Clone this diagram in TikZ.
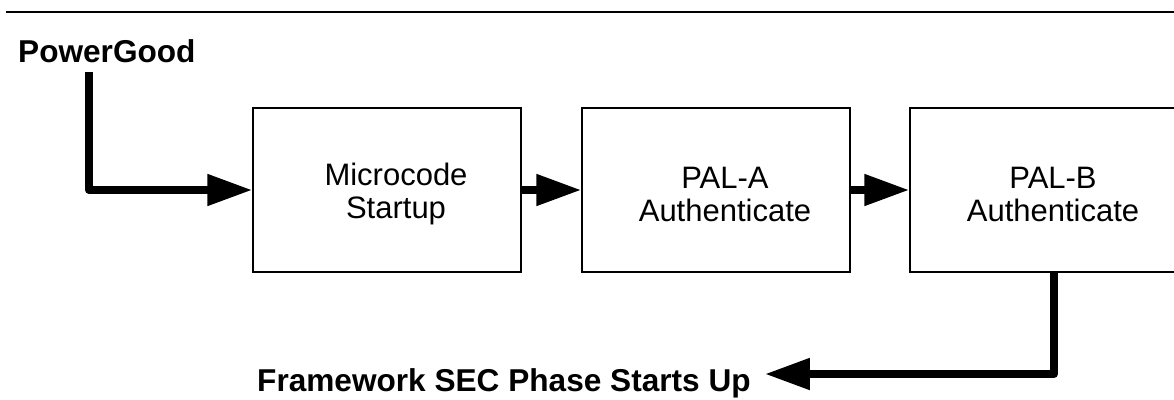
\documentclass[tikz,border=0pt]{standalone}
\usepackage{fontspec}
\setmainfont{Liberation Sans}
\usetikzlibrary{arrows.meta,calc}
\begin{document}
\begin{tikzpicture}[x=1pt,y=-1pt,
  stage/.style={draw, line width=1.5pt, minimum width=268pt, minimum height=164pt, inner sep=0pt},
  stagetext/.style={align=center, font=\fontsize{31}{33}\selectfont, inner sep=0pt},
  flow/.style={line width=8pt, line join=round, -{Triangle[length=45pt,width=30pt]}},
  lbl/.style={font=\bfseries\fontsize{31.6}{36}\selectfont, inner sep=0pt, anchor=base west}]
\useasboundingbox (0,0) rectangle (1174,399);
% rule across the top
\draw[line width=2.3pt] (6,12) -- (1190,12);
% signal labels
\node[lbl] (pg) at (18,62) {PowerGood};
\node[lbl] (fw) at (257,391) {Framework SEC Phase Starts Up};
% stages
\node[stage] (b1) at (387,190) {};
\node[stage] (b2) at (716,190) {};
\node[stage] (b3) at (1044,190) {};
\node[stagetext] (t1) at ([xshift=9pt,yshift=-4pt]b1.center) {Microcode\\Startup};
\node[stagetext] (t2) at ([xshift=9pt,yshift=-4pt]b2.center) {PAL-A\\Authenticate};
\node[stagetext] (t3) at ([xshift=9pt,yshift=-4pt]b3.center) {PAL-B\\Authenticate};
% flow
\coordinate (pgdrop) at (89,72);
\draw[flow] (pgdrop) |- (b1.west);
\draw[flow] (b1.east) -- (b2.west);
\draw[flow] (b2.east) -- (b3.west);
\draw[flow] ([xshift=10pt]b3.south) |- ($(fw.base east)+(14,-17)$);
\end{tikzpicture}
\end{document}
